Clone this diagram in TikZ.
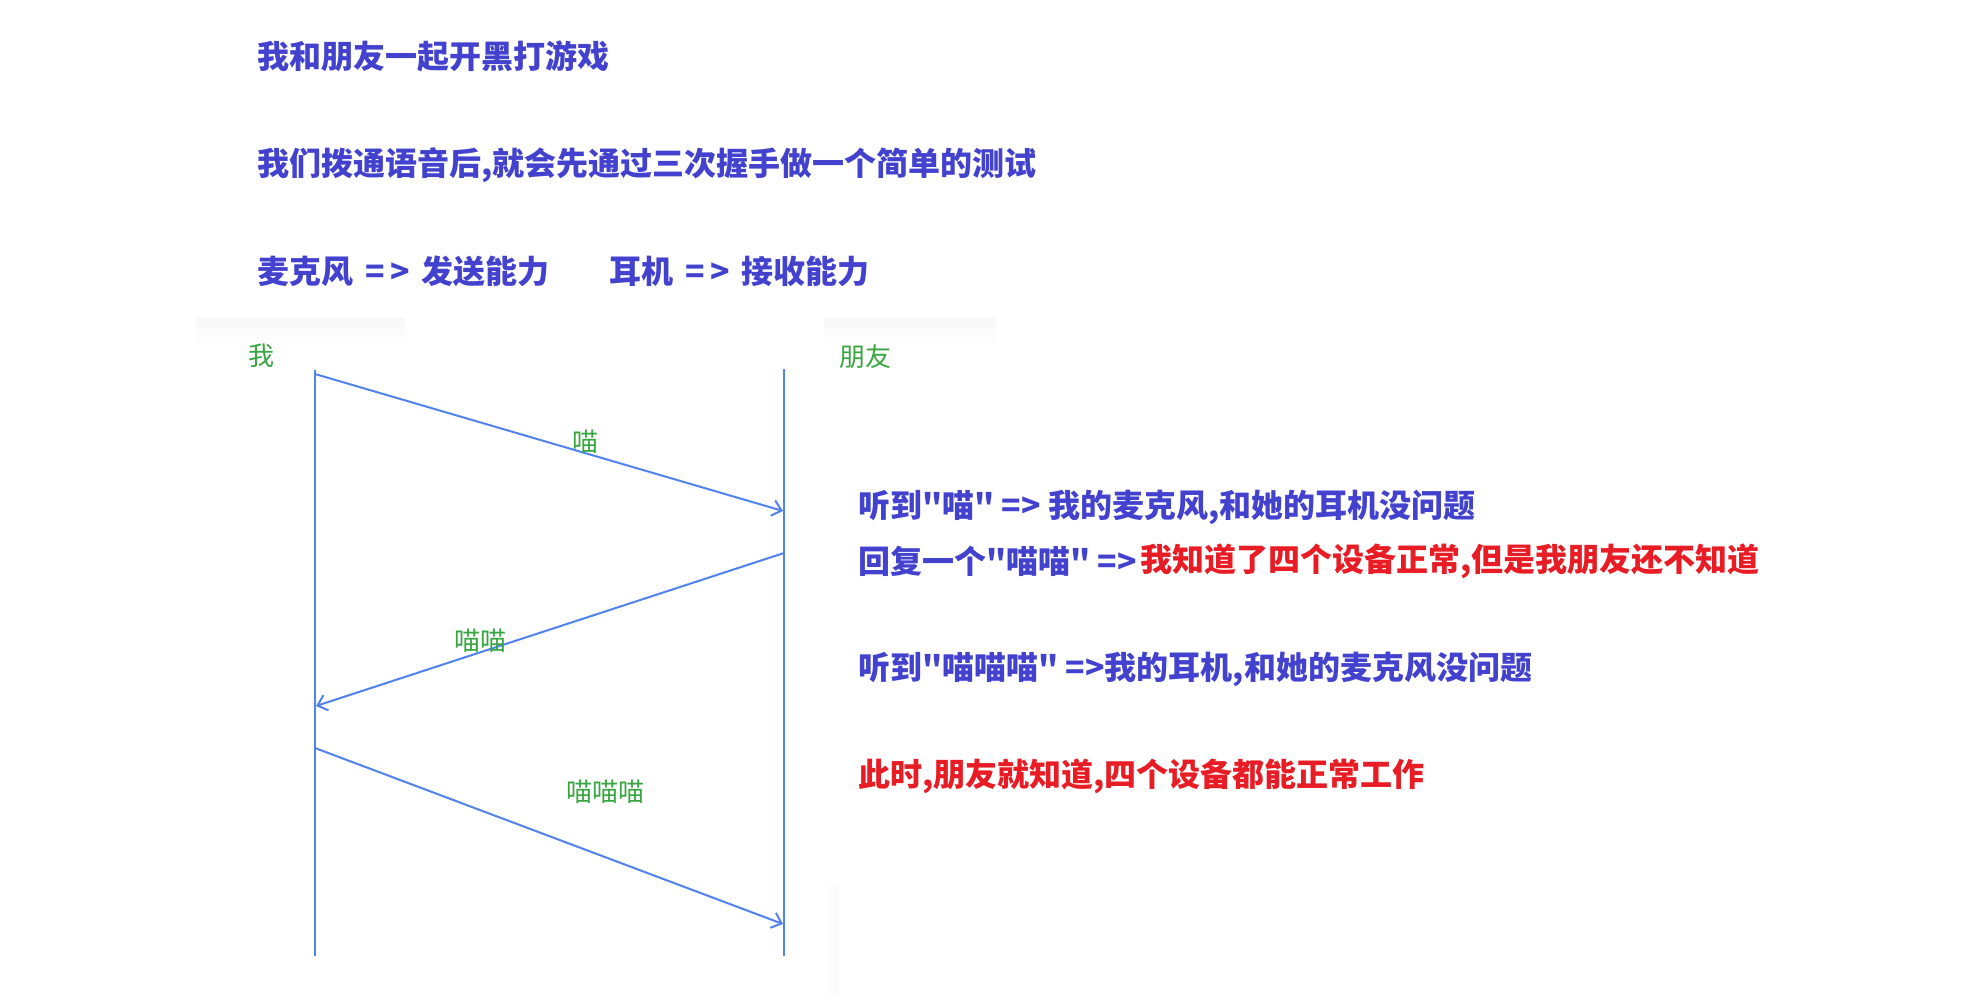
\documentclass[tikz,border=0pt]{standalone}
\usepackage{fontspec}
\newfontfamily\cjk{Noto Sans CJK SC}
\usetikzlibrary{arrows.meta}
\definecolor{txtblue}{RGB}{66,66,206}
\definecolor{txtred}{RGB}{232,28,36}
\definecolor{lblgreen}{RGB}{56,166,64}
\definecolor{lineblue}{RGB}{80,130,240}
\newcommand{\implto}{\hspace{5pt} =\hspace{5pt}> \hspace{5pt}}
\tikzset{
  title/.style={anchor=west, inner sep=0pt, text=txtblue, font=\cjk\bfseries\fontsize{32}{38}\selectfont},
  redtitle/.style={title, text=txtred},
  actor/.style={inner sep=0pt, text=lblgreen, font=\cjk\fontsize{26}{30}\selectfont},
  msg/.style={inner sep=0pt, text=lblgreen, font=\cjk\fontsize{26}{30}\selectfont},
  lifeline/.style={draw=lineblue, line width=2pt},
  msgarrow/.style={draw=lineblue, line width=2pt, -{Straight Barb[length=9pt,width=16pt,line width=2pt]}},
}
\begin{document}
\begin{tikzpicture}[x=1pt,y=-1pt]
\useasboundingbox (0,0) rectangle (1987,999);
\fill[white] (0,0) rectangle (1987,999);
% faint screenshot shading
\shade[top color=black!3, bottom color=white] (196,318) rectangle (405,346);
\shade[top color=black!3, bottom color=white] (824,318) rectangle (996,346);
\shade[left color=white, right color=black!2] (826,885) rectangle (838,995);
% header texts
\node[title] (t1) at (257,56) {我和朋友一起开黑打游戏};
\node[title] (t2) at (257,165) {我们拨通语音后,就会先通过三次握手做一个简单的测试};
\node[title] (t3a) at (257,271) {麦克风\implto 发送能力};
\node[title] (t3b) at (609,271) {耳机\implto 接收能力};
% actors
\node[actor] (me) at (261,356) {我};
\node[actor] (fr) at (865,357) {朋友};
% lifelines
\coordinate (Atop) at (315,370);
\coordinate (Abot) at (315,956);
\coordinate (Btop) at (784,369);
\coordinate (Bbot) at (784,956);
\draw[lifeline] (Atop) -- (Abot);
\draw[lifeline] (Btop) -- (Bbot);
% messages
\coordinate (m1s) at (315,374);
\coordinate (m1e) at (783,511);
\coordinate (m2s) at (784,553);
\coordinate (m2e) at (316,706);
\coordinate (m3s) at (315,748);
\coordinate (m3e) at (783,924);
\draw[msgarrow] (m1s) -- (m1e);
\draw[msgarrow] (m2s) -- (m2e);
\draw[msgarrow] (m3s) -- (m3e);
\node[msg] (l1) at (585,442) {喵};
\node[msg] (l2) at (480,641) {喵喵};
\node[msg] (l3) at (605,792) {喵喵喵};
% explanations
\node[title] (e1) at (858,507) {听到"喵" => 我的麦克风,和她的耳机没问题};
\node[title] (e2) at (858,561) {回复一个"喵喵" =>};
\node[redtitle] (e2r) at (1140,561) {我知道了四个设备正常,但是我朋友还不知道};
\node[title] (e3) at (858,669) {听到"喵喵喵" =>我的耳机,和她的麦克风没问题};
\node[redtitle] (e4) at (858,776) {此时,朋友就知道,四个设备都能正常工作};
\end{tikzpicture}
\end{document}
